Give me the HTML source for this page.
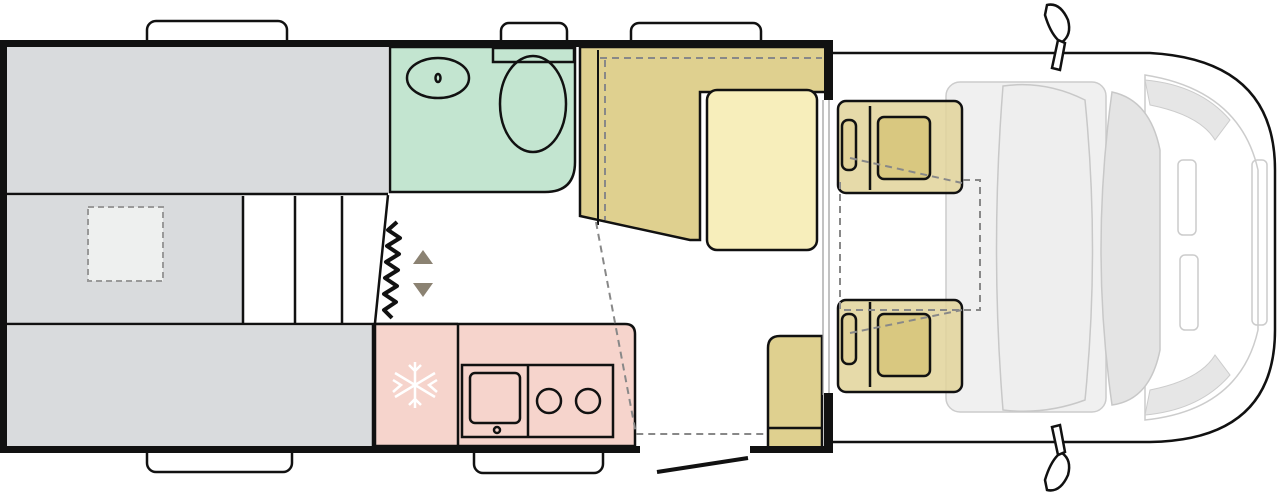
<!DOCTYPE html>
<html><head><meta charset="utf-8"><style>html,body{margin:0;padding:0;background:#fff}svg{display:block}</style></head><body>
<svg width="1280" height="495" viewBox="0 0 1280 495" xmlns="http://www.w3.org/2000/svg">
<!-- windows -->
<g fill="#fff" stroke="#111" stroke-width="2.5">
<rect x="147" y="21" width="140" height="30" rx="9"/>
<rect x="501" y="23" width="66" height="28" rx="8"/>
<rect x="631" y="23" width="130" height="28" rx="8"/>
<rect x="147" y="440" width="145" height="32" rx="9"/>
<rect x="474" y="440" width="129" height="33" rx="9"/>
</g>
<!-- cab -->
<path d="M832 53 H1150 Q1275 60 1275 170 V330 Q1275 440 1150 442 H832" fill="#fff" stroke="#111" stroke-width="2.5"/>
<path d="M1145 75 Q1240 90 1258 170 V330 Q1240 410 1145 420 Z" fill="#fff" stroke="#ccc" stroke-width="1.5"/>
<path d="M1145 80 L1150 105 Q1200 115 1215 140 L1230 120 Q1200 85 1145 80Z" fill="#e6e6e6" stroke="#ccc"/>
<path d="M1145 415 L1150 390 Q1200 380 1215 355 L1230 375 Q1200 410 1145 415Z" fill="#e6e6e6" stroke="#ccc"/>
<rect x="1178" y="160" width="18" height="75" rx="5" fill="none" stroke="#ccc" stroke-width="1.5"/>
<rect x="1180" y="255" width="18" height="75" rx="5" fill="none" stroke="#ccc" stroke-width="1.5"/>
<rect x="1252" y="160" width="15" height="165" rx="5" fill="none" stroke="#ccc" stroke-width="1.5"/>
<rect x="946" y="82" width="160" height="330" rx="14" fill="#ececec" fill-opacity=".8" stroke="#ccc" stroke-width="1.5"/>
<path d="M1003 86 Q1045 80 1085 100 Q1100 250 1085 400 Q1045 415 1003 410 Q990 250 1003 86Z" fill="#eee" stroke="#c8c8c8" stroke-width="1.5"/>
<path d="M1112 92 Q1150 100 1160 150 V350 Q1150 400 1112 405 Q1090 250 1112 92Z" fill="#e4e4e4" stroke="#c8c8c8" stroke-width="1.5"/>
<!-- mirrors -->
<g fill="#fff" stroke="#111" stroke-width="2.5">
<path d="M1047 5 Q1060 2 1068 20 Q1072 35 1062 42 L1058 40 Q1050 32 1045 15Z"/>
<path d="M1058 40 L1065 43 L1060 70 L1052 68Z"/>
<path d="M1047 490 Q1060 493 1068 475 Q1072 460 1062 453 L1058 455 Q1050 463 1045 480Z"/>
<path d="M1058 455 L1065 452 L1060 425 L1052 427Z"/>
</g>
<!-- seats -->
<g stroke="#111" stroke-width="2.5">
<rect x="838" y="101" width="124" height="92" rx="8" fill="#e2d39a" fill-opacity=".85"/>
<rect x="838" y="300" width="124" height="92" rx="8" fill="#e2d39a" fill-opacity=".85"/>
<rect x="878" y="117" width="52" height="62" rx="6" fill="#d9c880"/>
<rect x="878" y="314" width="52" height="62" rx="6" fill="#d9c880"/>
<rect x="842" y="120" width="14" height="50" rx="6" fill="#e2d39a"/>
<rect x="842" y="314" width="14" height="50" rx="6" fill="#e2d39a"/>
<path d="M870 106 V190 M870 302 V387" fill="none"/>
</g>
<path d="M850 158 L962 183 M840 182 V310 H980 V180 H960 M850 333 L962 310" fill="none" stroke="#888" stroke-width="2" stroke-dasharray="7 5"/>
<!-- main body floor -->
<rect x="7" y="47" width="381" height="146" fill="#d9dbdd"/>
<rect x="7" y="196" width="236" height="127" fill="#d9dbdd"/>
<rect x="7" y="326" width="366" height="120" fill="#d9dbdd"/>
<rect x="88" y="207" width="75" height="74" fill="#eef0ef" stroke="#999" stroke-width="2" stroke-dasharray="6 4"/>
<g stroke="#111" stroke-width="2.5" fill="none">
<path d="M7 194 H388 M243 196 V323 M295 196 V323 M342 196 V323 M388 195 L375 323 M7 324 H458 M373 324 V446"/>
</g>
<!-- bathroom -->
<path d="M390 47 H575 V162 Q575 192 545 192 H390Z" fill="#c3e5d0" stroke="#111" stroke-width="2.5"/>
<g stroke="#111" stroke-width="2.5" fill="none">
<ellipse cx="438" cy="78" rx="31" ry="20"/>
<ellipse cx="438" cy="78" rx="2.5" ry="4"/>
<rect x="493" y="48" width="81" height="14" fill="#c3e5d0"/>
<ellipse cx="533" cy="104" rx="33" ry="48"/>
</g>
<!-- zigzag + arrows -->
<path d="M397 222 L388 230 L400 238 L387 246 L399 254 L386 262 L398 270 L385 278 L397 286 L384 294 L396 302 L384 310 L392 318" fill="none" stroke="#111" stroke-width="4" stroke-linejoin="round"/>
<path d="M413 264 L423 250 L433 264Z M413 283 L433 283 L423 297Z" fill="#8b8272"/>
<!-- kitchen -->
<path d="M375 324 H625 Q635 324 635 334 V446 H375Z" fill="#f6d4cc" stroke="#111" stroke-width="2.5"/>
<path d="M458 324 V446" stroke="#111" stroke-width="2.5"/>
<g stroke="#fff" stroke-width="2.5" fill="none">
<path d="M415 362 V408 M395 373 L435 397 M395 397 L435 373 M409 365 L415 371 L421 365 M409 405 L415 399 L421 405 M393 380 L401 385 L393 392 M437 380 L429 385 L437 392"/>
</g>
<g stroke="#111" stroke-width="2.5" fill="none">
<rect x="462" y="365" width="151" height="72"/>
<path d="M528 365 V437"/>
<rect x="470" y="373" width="50" height="50" rx="5"/>
<circle cx="497" cy="430" r="3"/>
<circle cx="549" cy="401" r="12"/>
<circle cx="588" cy="401" r="12"/>
</g>
<!-- dinette -->
<path d="M580 47 H826 V92 H700 V240 L690 240 L580 216Z" fill="#dfd08f" stroke="#111" stroke-width="2.5"/>
<path d="M598 50 V225" stroke="#111" stroke-width="2"/>
<path d="M600 58 H822 M605 60 V220" stroke="#888" stroke-width="2" stroke-dasharray="7 5" fill="none"/>
<rect x="707" y="90" width="110" height="160" rx="10" fill="#f7eebb" stroke="#111" stroke-width="2.5"/>
<path d="M768 348 Q768 336 780 336 H822 V448 H768Z" fill="#dfd08f" stroke="#111" stroke-width="2.5"/>
<path d="M768 428 H822" stroke="#111" stroke-width="2.5"/>
<path d="M596 222 L636 434 H768" stroke="#888" stroke-width="2" stroke-dasharray="7 5" fill="none"/>
<path d="M823 100 V395 M829 100 V395" stroke="#999" stroke-width="1.2"/>
<!-- walls -->
<g fill="#111">
<rect x="0" y="40" width="832" height="7"/>
<rect x="0" y="40" width="7" height="413"/>
<rect x="0" y="446" width="640" height="7"/>
<rect x="750" y="446" width="82" height="7"/>
<rect x="824" y="40" width="9" height="60"/>
<rect x="824" y="393" width="9" height="60"/>
</g>
<path d="M657 472 L748 458" stroke="#111" stroke-width="4"/>
</svg>
</body></html>
